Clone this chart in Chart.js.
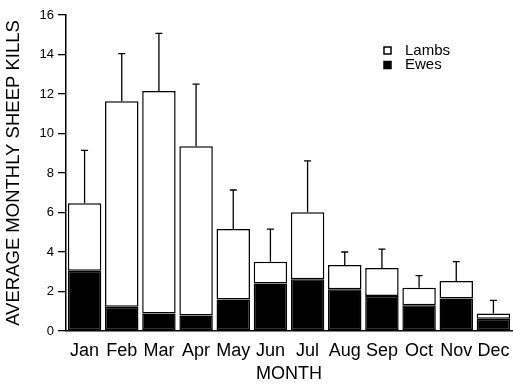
<!DOCTYPE html>
<html>
<head>
<meta charset="utf-8">
<script src="https://cdn.jsdelivr.net/npm/chart.js@4/dist/chart.umd.min.js"></script>
<style>
  html, body { margin: 0; padding: 0; background: #fff; }
  #wrap { width: 513px; height: 385px; }
</style>
</head>
<body>
<div id="wrap"><canvas id="c" width="513" height="385"></canvas></div>
<script>
// Average monthly sheep kills, split into ewes and lambs, with upper error bars
const months = ['Jan', 'Feb', 'Mar', 'Apr', 'May', 'Jun', 'Jul', 'Aug', 'Sep', 'Oct', 'Nov', 'Dec'];
const ewes  = [3.05, 1.23, 0.89, 0.78, 1.60, 2.41, 2.62, 2.11, 1.77, 1.30, 1.65, 0.62];
const lambs = [3.42, 10.40, 11.26, 8.57, 3.56, 1.10, 3.39, 1.23, 1.42, 0.89, 0.88, 0.26];
const errUp = [2.68, 2.41, 2.92, 3.15, 1.98, 1.65, 2.60, 0.66, 0.96, 0.61, 0.98, 0.67];
const yTicks = [0, 2, 4, 6, 8, 10, 12, 14, 16];

const FONT = "'Liberation Sans', Arial, Helvetica, sans-serif";

// Upward error bars drawn from the top of each stacked bar
const errorBars = {
  id: 'errorBars',
  afterDatasetsDraw(chart) {
    const ctx = chart.ctx;
    const y = chart.scales.y;
    const topMeta = chart.getDatasetMeta(1);
    ctx.save();
    ctx.strokeStyle = '#000';
    ctx.lineWidth = 1.3;
    topMeta.data.forEach((bar, i) => {
      const total = ewes[i] + lambs[i];
      const yTop = y.getPixelForValue(total);
      const yErr = y.getPixelForValue(total + errUp[i]);
      ctx.beginPath();
      ctx.moveTo(bar.x, yTop);
      ctx.lineTo(bar.x, yErr);
      ctx.moveTo(bar.x - 3.5, yErr);
      ctx.lineTo(bar.x + 3.5, yErr);
      ctx.stroke();
    });
    ctx.restore();
  }
};

// Small legend inside the plot area, Lambs listed above Ewes
const insideLegend = {
  id: 'insideLegend',
  afterDraw(chart) {
    const ctx = chart.ctx;
    const items = [chart.data.datasets[1], chart.data.datasets[0]];
    const x0 = 384, y0 = 50.5, rowH = 14.5, box = 7;
    ctx.save();
    ctx.font = '15px ' + FONT;
    ctx.textBaseline = 'middle';
    ctx.textAlign = 'left';
    items.forEach((ds, k) => {
      const cy = y0 + k * rowH;
      ctx.fillStyle = ds.backgroundColor;
      ctx.fillRect(x0, cy - box / 2, box, box);
      ctx.strokeStyle = '#000';
      ctx.lineWidth = 1.5;
      ctx.strokeRect(x0, cy - box / 2, box, box);
      ctx.fillStyle = '#000';
      ctx.fillText(ds.label, 405, cy);
    });
    ctx.restore();
  }
};

new Chart(document.getElementById('c'), {
  type: 'bar',
  data: {
    labels: months,
    datasets: [
      {
        label: 'Ewes',
        data: ewes,
        backgroundColor: '#000',
        borderColor: '#000',
        borderWidth: 1.5,
        borderSkipped: false,
        barPercentage: 0.9,
        categoryPercentage: 1.0
      },
      {
        label: 'Lambs',
        data: lambs,
        backgroundColor: '#fff',
        borderColor: '#000',
        borderWidth: 1.5,
        borderSkipped: false,
        barPercentage: 0.9,
        categoryPercentage: 1.0
      }
    ]
  },
  options: {
    responsive: false,
    animation: false,
    devicePixelRatio: 1,
    layout: { padding: { left: 0, right: 1, top: 15, bottom: 0 } },
    plugins: {
      legend: { display: false },
      tooltip: { enabled: false }
    },
    scales: {
      x: {
        stacked: true,
        offset: true,
        grid: { display: false, drawTicks: false },
        border: { display: true, color: '#000', width: 1.5 },
        ticks: {
          color: '#000',
          padding: 9,
          maxRotation: 0,
          autoSkip: false,
          font: { family: FONT, size: 18 }
        },
        title: {
          display: true,
          text: 'MONTH',
          color: '#000',
          padding: { top: 0, bottom: 0 },
          font: { family: FONT, size: 18 }
        },
        afterFit(scale) {
          scale.height = 54;
          scale.paddingLeft = 0;
          scale.paddingRight = 0;
        }
      },
      y: {
        stacked: true,
        min: 0,
        max: 16,
        afterBuildTicks(scale) { scale.ticks = yTicks.map(v => ({ value: v })); },
        grid: {
          display: true,
          drawOnChartArea: false,
          drawTicks: true,
          tickLength: 8,
          color: '#000',
          lineWidth: 1.3
        },
        border: { display: true, color: '#000', width: 1.5 },
        ticks: {
          color: '#000',
          padding: 4,
          font: { family: FONT, size: 13 }
        },
        title: {
          display: true,
          text: 'AVERAGE MONTHLY SHEEP KILLS',
          color: '#000',
          padding: { top: 3, bottom: 0 },
          font: { family: FONT, size: 18.5 }
        },
        afterFit(scale) { scale.width = 66; }
      }
    }
  },
  plugins: [errorBars, insideLegend]
});
</script>
</body>
</html>
